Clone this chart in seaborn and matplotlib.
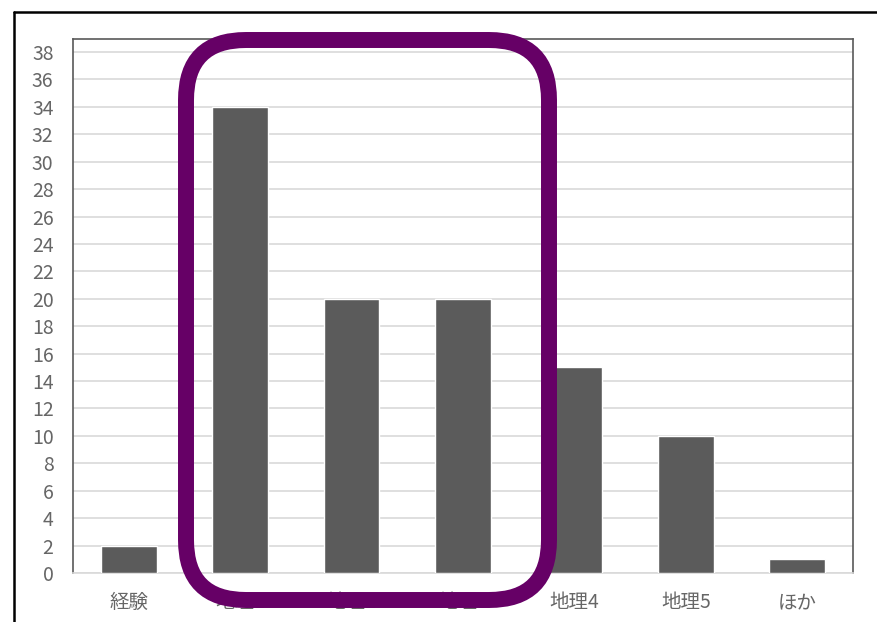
import matplotlib
matplotlib.use("Agg")
import matplotlib.pyplot as plt
import seaborn as sns
import pandas as pd
from matplotlib.patches import FancyBboxPatch
from matplotlib.lines import Line2D

# データ
categories = ['経験', '地理1', '地理2', '地理3', '地理4', '地理5', 'ほか']
counts = [2, 34, 20, 20, 15, 10, 1]
y_ticks = list(range(0, 39, 2))

BAR_COLOR = '#5b5b5b'
TEXT_COLOR = '#666666'
PURPLE = '#660066'

sns.set_theme(style="white")
plt.rcParams['font.family'] = ['Noto Sans CJK JP', 'DejaVu Sans']

df = pd.DataFrame({'cat': categories, 'n': counts})

fig = plt.figure(figsize=(8.78, 6.22), dpi=100)
fig.patch.set_facecolor('white')
ax = fig.add_axes([73 / 878, 49 / 622, 780 / 878, 534 / 622])

sns.barplot(data=df, x='cat', y='n', color=BAR_COLOR, saturation=1,
            width=0.5, ax=ax, zorder=3)

ax.set_ylim(0, 38.95)
ax.set_yticks(y_ticks)
ax.yaxis.grid(True, color='#d9d9d9', linewidth=1.2, zorder=0)
ax.set_axisbelow(True)
ax.set_xlabel('')
ax.set_ylabel('')
ax.tick_params(axis='both', colors=TEXT_COLOR, labelsize=14, length=0)
ax.tick_params(axis='x', pad=14)
ax.tick_params(axis='y', pad=14)

for side in ['left', 'top', 'right']:
    ax.spines[side].set_color('#595959')
    ax.spines[side].set_linewidth(1.2)
ax.spines['bottom'].set_color('#d9d9d9')
ax.spines['bottom'].set_linewidth(1.2)

# 外枠と紫の囲み (ピクセル座標の重ね合わせ)
over = fig.add_axes([0, 0, 1, 1], zorder=10)
over.set_xlim(0, 878)
over.set_ylim(622, 0)
over.axis('off')
over.patch.set_alpha(0)

over.add_line(Line2D([14, 878], [12, 12], color='black', linewidth=1.8))
over.add_line(Line2D([14, 14], [12, 622], color='black', linewidth=1.8))

box = FancyBboxPatch((186, 40), 363, 560,
                     boxstyle="round,pad=0,rounding_size=60",
                     facecolor='none', edgecolor=PURPLE, linewidth=11.5)
over.add_patch(box)

fig.savefig('out.png', dpi=100)
